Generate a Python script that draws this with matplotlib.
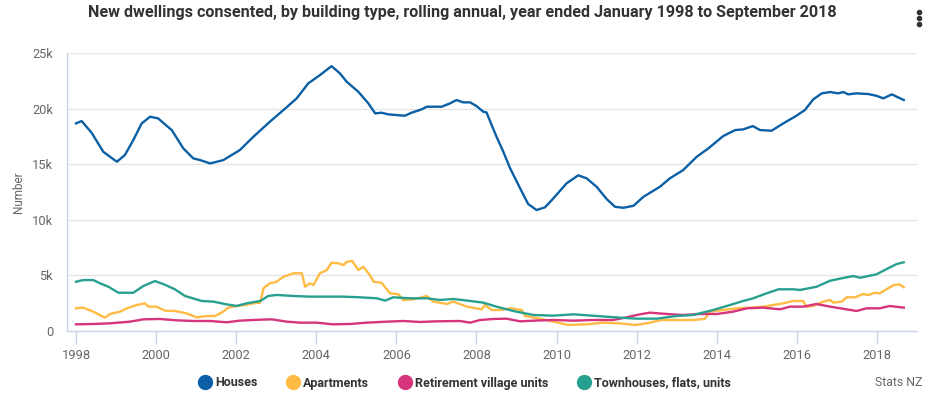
import matplotlib
matplotlib.use("Agg")
import matplotlib.pyplot as plt
from matplotlib.lines import Line2D
import numpy as np

plt.rcParams["font.family"] = ["Roboto", "DejaVu Sans"]

# ---------------------------------------------------------------------------
# Data (rolling annual counts)
# ---------------------------------------------------------------------------
houses_year = [1998.0, 1998.14, 1998.39, 1998.68, 1999.02, 1999.22, 1999.43, 1999.64,
               1999.85, 2000.05, 2000.39, 2000.68, 2000.93, 2001.1, 2001.35, 2001.68,
               2002.09, 2002.43, 2002.84, 2003.18, 2003.51, 2003.8, 2004.09, 2004.38,
               2004.59, 2004.76, 2005.05, 2005.3, 2005.47, 2005.63, 2005.8, 2006.21,
               2006.38, 2006.63, 2006.76, 2007.13, 2007.34, 2007.5, 2007.67, 2007.84,
               2008.0, 2008.17, 2008.25, 2008.5, 2008.67, 2008.84, 2009.09, 2009.29,
               2009.5, 2009.71, 2009.92, 2010.25, 2010.54, 2010.75, 2011.0, 2011.25,
               2011.46, 2011.67, 2011.92, 2012.17, 2012.58, 2012.83, 2013.16, 2013.5,
               2013.79, 2014.16, 2014.46, 2014.66, 2014.9, 2015.08, 2015.37, 2015.66,
               2015.95, 2016.2, 2016.41, 2016.62, 2016.83, 2017.03, 2017.16, 2017.28,
               2017.49, 2017.78, 2017.99, 2018.16, 2018.37, 2018.67]
houses_val = [18670, 18880, 17830, 16120, 15220, 15820, 17170, 18670,
              19270, 19120, 18070, 16420, 15520, 15370, 15070, 15370,
              16270, 17470, 18820, 19870, 20920, 22270, 23010, 23820,
              23170, 22410, 21510, 20470, 19570, 19630, 19480, 19360,
              19630, 19930, 20170, 20170, 20470, 20770, 20560, 20560,
              20230, 19720, 19660, 17470, 16120, 14630, 12830, 11420,
              10880, 11120, 11930, 13280, 14000, 13730, 12970, 11870,
              11170, 11080, 11260, 12070, 12970, 13730, 14470, 15670,
              16420, 17530, 18070, 18130, 18430, 18070, 18010, 18670,
              19270, 19870, 20830, 21370, 21490, 21370, 21490, 21280,
              21370, 21310, 21150, 20920, 21280, 20770]

apart_year = [1998.0, 1998.18, 1998.43, 1998.72, 1998.85, 1999.1, 1999.27, 1999.52,
              1999.72, 1999.81, 2000.01, 2000.22, 2000.47, 2000.76, 2001.01, 2001.14,
              2001.3, 2001.47, 2001.68, 2001.8, 2002.01, 2002.22, 2002.43, 2002.6,
              2002.68, 2002.84, 2003.01, 2003.18, 2003.43, 2003.64, 2003.72, 2003.84,
              2003.93, 2004.09, 2004.26, 2004.38, 2004.55, 2004.68, 2004.76, 2004.9,
              2005.05, 2005.17, 2005.34, 2005.43, 2005.63, 2005.84, 2006.05, 2006.17,
              2006.42, 2006.76, 2006.92, 2007.26, 2007.42, 2007.76, 2008.13, 2008.21,
              2008.38, 2008.59, 2008.84, 2009.13, 2009.21, 2009.54, 2009.92, 2010.29,
              2010.75, 2011.17, 2011.58, 2011.96, 2012.25, 2012.62, 2013.0, 2013.41,
              2013.7, 2013.83, 2014.16, 2014.49, 2014.83, 2015.16, 2015.41, 2015.66,
              2015.91, 2016.16, 2016.23, 2016.41, 2016.66, 2016.83, 2016.91, 2017.12,
              2017.24, 2017.45, 2017.66, 2017.78, 2017.95, 2018.07, 2018.28, 2018.41,
              2018.56, 2018.67]
apart_val = [2040, 2100, 1740, 1200, 1530, 1740, 2040, 2340,
             2490, 2190, 2190, 1830, 1800, 1590, 1230, 1290,
             1350, 1350, 1740, 2100, 2250, 2340, 2490, 2550,
             3840, 4290, 4430, 4880, 5190, 5190, 3980, 4290,
             4140, 5190, 5480, 6140, 6090, 5930, 6230, 6290,
             5480, 5780, 5030, 4430, 4340, 3390, 3300, 2790,
             2850, 3150, 2640, 2430, 2640, 2190, 1950, 2340,
             1890, 1890, 2040, 1890, 1350, 1140, 840, 540,
             600, 750, 690, 540, 690, 990, 990, 990,
             1080, 1740, 1890, 2040, 2100, 2190, 2340, 2490,
             2700, 2700, 2190, 2250, 2640, 2790, 2550, 2640,
             3030, 3030, 3330, 3240, 3440, 3390, 3840, 4110,
             4200, 3930]

retire_year = [1998.0, 1998.43, 1998.85, 1999.35, 1999.68, 2000.1, 2000.51, 2000.93,
               2001.35, 2001.76, 2002.09, 2002.6, 2002.89, 2003.26, 2003.59, 2004.01,
               2004.42, 2004.84, 2005.26, 2005.76, 2006.17, 2006.59, 2007.01, 2007.59,
               2007.84, 2008.09, 2008.42, 2008.75, 2009.09, 2009.42, 2009.92, 2010.42,
               2010.92, 2011.42, 2011.75, 2012.08, 2012.33, 2012.75, 2013.16, 2013.58,
               2014.0, 2014.41, 2014.75, 2015.16, 2015.58, 2015.83, 2016.16, 2016.49,
               2016.83, 2017.24, 2017.49, 2017.74, 2018.07, 2018.32, 2018.67]
retire_val = [600, 630, 690, 840, 1050, 1080, 960, 900,
              900, 780, 930, 1020, 1050, 840, 750, 750,
              600, 630, 750, 840, 900, 810, 870, 900,
              750, 990, 1080, 1110, 870, 930, 990, 930,
              990, 990, 1230, 1500, 1650, 1530, 1440, 1530,
              1530, 1740, 2040, 2100, 1950, 2190, 2190, 2430,
              2190, 1950, 1800, 2040, 2040, 2250, 2100]

town_year = [1998.0, 1998.18, 1998.43, 1998.6, 1998.81, 1999.06, 1999.43, 1999.68,
             1999.97, 2000.18, 2000.47, 2000.72, 2001.14, 2001.43, 2001.76, 2002.01,
             2002.26, 2002.6, 2002.8, 2003.01, 2003.43, 2003.84, 2004.26, 2004.68,
             2005.09, 2005.51, 2005.72, 2005.92, 2006.34, 2006.76, 2007.09, 2007.42,
             2007.84, 2008.17, 2008.5, 2008.92, 2009.42, 2009.92, 2010.42, 2011.0,
             2011.58, 2012.0, 2012.5, 2013.0, 2013.41, 2013.91, 2014.25, 2014.66,
             2014.91, 2015.2, 2015.54, 2015.91, 2016.08, 2016.49, 2016.83, 2017.24,
             2017.41, 2017.58, 2017.99, 2018.28, 2018.49, 2018.67]
town_val = [4430, 4580, 4580, 4290, 3980, 3440, 3440, 4040,
            4490, 4220, 3750, 3150, 2700, 2640, 2400, 2250,
            2490, 2700, 3150, 3240, 3150, 3090, 3090, 3090,
            3030, 2940, 2730, 3030, 2940, 2940, 2790, 2880,
            2700, 2550, 2190, 1800, 1440, 1380, 1500, 1350,
            1200, 1110, 1110, 1350, 1440, 1890, 2250, 2700,
            2940, 3330, 3750, 3750, 3690, 3980, 4520, 4830,
            4940, 4790, 5100, 5640, 6020, 6180]

series_names = ["Houses", "Apartments", "Retirement village units", "Townhouses, flats, units"]
series_colors = ["#0b5fa5", "#ffbb44", "#d6357c", "#27a08f"]

x_ticks = list(range(1998, 2019, 2))
y_ticks = [0, 5000, 10000, 15000, 20000, 25000]
y_tick_labels = ["0", "5k", "10k", "15k", "20k", "25k"]

# ---------------------------------------------------------------------------
# Plot
# ---------------------------------------------------------------------------
fig = plt.figure(figsize=(9.48, 4.18), dpi=100)
ax = fig.add_axes([67 / 948, 1 - 331 / 418, 850 / 948, 278 / 418])

data = [(houses_year, houses_val), (apart_year, apart_val),
        (retire_year, retire_val), (town_year, town_val)]
for (xs, ys), color in zip(data, series_colors):
    ax.plot(xs, ys, color=color, linewidth=1.7, solid_joinstyle="round", zorder=3)

ax.set_xlim(1997.775, 2019.0)
ax.set_ylim(0, 25000)
ax.set_xticks(x_ticks)
ax.set_xticklabels([str(y) for y in x_ticks])
ax.set_yticks(y_ticks)
ax.set_yticklabels(y_tick_labels)

ax.grid(axis="y", color="#e6e6e6", linewidth=1)
ax.set_axisbelow(True)
for side in ("top", "right"):
    ax.spines[side].set_visible(False)
for side in ("left", "bottom"):
    ax.spines[side].set_color("#ccd6eb")
    ax.spines[side].set_linewidth(1)
ax.tick_params(axis="x", colors="#ccd6eb", length=9, width=1, labelcolor="#666666",
               labelsize=9.3, pad=4)
ax.tick_params(axis="y", length=0, labelcolor="#666666", labelsize=9.3, pad=10)

ax.set_ylabel("Number", color="#666666", fontsize=8.5)
ax.yaxis.set_label_coords(-0.049, 0.5)

fig.text(0.488, 0.969, "New dwellings consented, by building type, rolling annual, "
         "year ended January 1998 to September 2018",
         ha="center", va="center", fontsize=11.6, fontweight="bold", color="#333333")

# menu icon
for yy in (12, 18, 24):
    fig.add_artist(Line2D([919 / 948], [1 - yy / 418], marker="o", markersize=3,
                          color="#333333", linestyle="none", transform=fig.transFigure))

handles = [Line2D([], [], marker="o", linestyle="none", markersize=10,
                  markerfacecolor=c, markeredgecolor=c) for c in series_colors]
leg = fig.legend(handles, series_names, loc="center", ncol=4,
                 bbox_to_anchor=(0.490, 1 - 383 / 418), frameon=False,
                 handletextpad=0.3, columnspacing=2.35, handlelength=1.0,
                 prop={"weight": "bold", "size": 9.0})
for t in leg.get_texts():
    t.set_color("#333333")

fig.text(922 / 948, 1 - 383 / 418, "Stats NZ", ha="right", va="center",
         fontsize=8.8, color="#666666")

fig.savefig("out.png", dpi=100)
